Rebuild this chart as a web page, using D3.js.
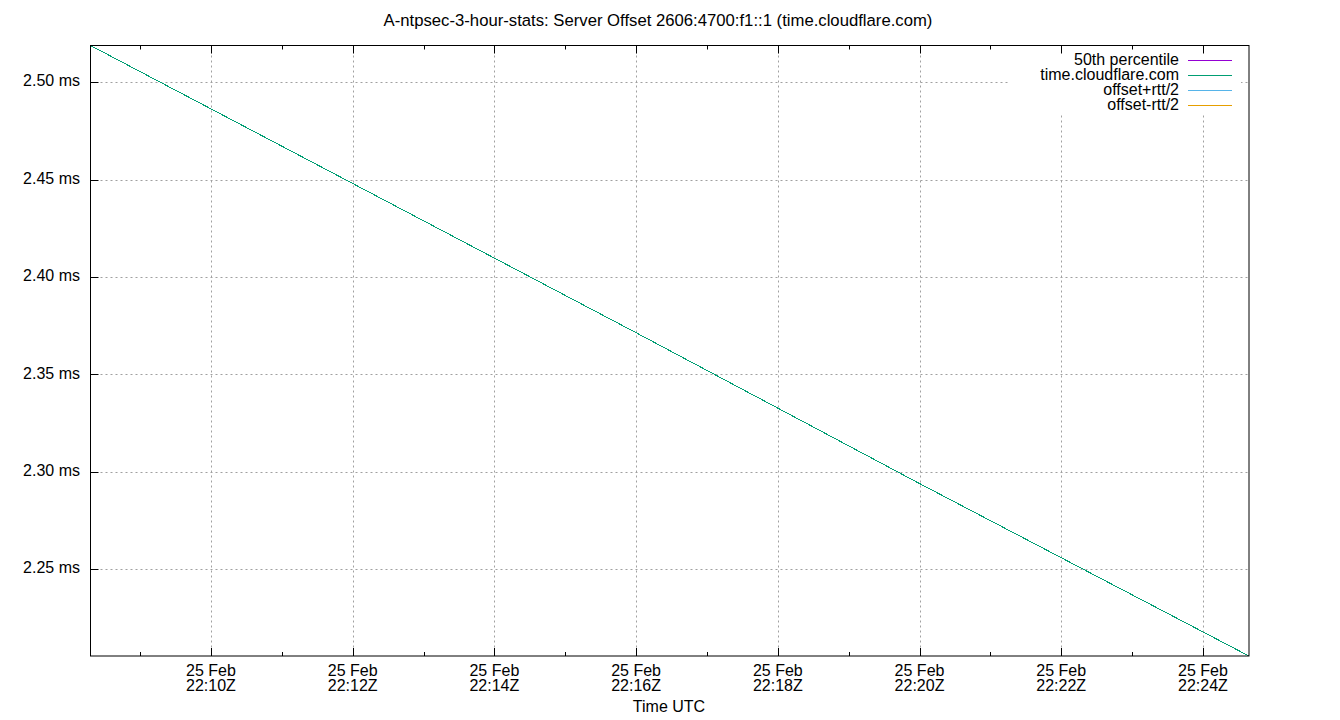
<!DOCTYPE html>
<html><head><meta charset="utf-8">
<script src="https://cdn.jsdelivr.net/npm/d3@7"></script>
<style>body{margin:0;background:#fff}svg{display:block}text{font-family:"Liberation Sans",Arial,sans-serif;fill:#000}</style>
</head><body>
<svg id="c" width="1340" height="720"></svg>
<script>
const title = "A-ntpsec-3-hour-stats: Server Offset 2606:4700:f1::1 (time.cloudflare.com)";
const times = ["2025-02-25T22:08:18Z","2025-02-25T22:12:00Z","2025-02-25T22:16:00Z","2025-02-25T22:20:00Z","2025-02-25T22:24:39Z"];
const offsets = [2.5188, 2.4480, 2.3714, 2.2940, 2.2055];
const yTicks = [2.25, 2.30, 2.35, 2.40, 2.45, 2.50];
const xMajorTicks = ["2025-02-25T22:10:00Z","2025-02-25T22:12:00Z","2025-02-25T22:14:00Z","2025-02-25T22:16:00Z","2025-02-25T22:18:00Z","2025-02-25T22:20:00Z","2025-02-25T22:22:00Z","2025-02-25T22:24:00Z"];
const xMinorTicks = ["2025-02-25T22:09:00Z","2025-02-25T22:11:00Z","2025-02-25T22:13:00Z","2025-02-25T22:15:00Z","2025-02-25T22:17:00Z","2025-02-25T22:19:00Z","2025-02-25T22:21:00Z","2025-02-25T22:23:00Z"];
const legendNames = ["50th percentile","time.cloudflare.com","offset+rtt/2","offset-rtt/2"];
const legendColors = ["#9400d3","#009e73","#56b4e9","#e69f00"];

const L=90.5, R=1249, T=45.5, B=656;
const FS = "16px";
const svg = d3.select("#c");
const pts = times.map((t,i)=>({t:new Date(t), v:offsets[i]}));
const x = d3.scaleUtc().domain(d3.extent(pts,d=>d.t)).range([L,R]);
const y = d3.scaleLinear().domain(d3.extent(pts,d=>d.v)).range([B,T]);
const majors = xMajorTicks.map(d=>new Date(d));
const minors = xMinorTicks.map(d=>new Date(d));

// grid
const g = svg.append("g");
g.selectAll("line.gy").data(yTicks).join("line")
  .attr("x1",L).attr("x2",R).attr("y1",d=>Math.round(y(d))+0.5).attr("y2",d=>Math.round(y(d))+0.5)
  .attr("stroke","#a0a0a0").attr("stroke-width",1).attr("stroke-dasharray","2,3");
g.selectAll("line.gx").data(majors).join("line")
  .attr("y1",T).attr("y2",B).attr("x1",d=>Math.round(x(d))+0.5).attr("x2",d=>Math.round(x(d))+0.5)
  .attr("stroke","#a0a0a0").attr("stroke-width",1).attr("stroke-dasharray","2,3");

// legend background box
svg.append("rect").attr("x",1008).attr("y",T+1).attr("width",233).attr("height",67).attr("fill","#fff");

// line
svg.append("path").datum(pts)
  .attr("d",d3.line().x(d=>x(d.t)).y(d=>y(d.v)))
  .attr("fill","none").attr("stroke","#009e73").attr("stroke-width",1)
  .attr("shape-rendering","crispEdges");

// y ticks left
svg.selectAll("line.yt").data(yTicks).join("line")
  .attr("x1",L).attr("x2",L+8).attr("y1",d=>Math.round(y(d))+0.5).attr("y2",d=>Math.round(y(d))+0.5)
  .attr("stroke","#000");
svg.selectAll("text.yl").data(yTicks).join("text")
  .attr("x",80).attr("y",d=>y(d)-1.5).attr("dy","0.35em").attr("text-anchor","end")
  .style("font-size",FS).text(d=>d3.format(".2f")(d)+" ms");
// x ticks bottom and top (mirror)
[[B,-1],[T,1]].forEach(([yy,dir])=>{
  svg.selectAll(null).data(majors).join("line")
    .attr("x1",d=>Math.round(x(d))+0.5).attr("x2",d=>Math.round(x(d))+0.5)
    .attr("y1",yy).attr("y2",yy+dir*8).attr("stroke","#000");
  svg.selectAll(null).data(minors).join("line")
    .attr("x1",d=>Math.round(x(d))+0.5).attr("x2",d=>Math.round(x(d))+0.5)
    .attr("y1",yy).attr("y2",yy+dir*4).attr("stroke","#000");
});
const fmtD = d3.utcFormat("%-d %b"), fmtT = d3.utcFormat("%H:%MZ");
const xl = svg.selectAll("text.xl").data(majors).join("text")
  .attr("text-anchor","middle").style("font-size",FS);
xl.append("tspan").attr("x",d=>x(d)).attr("y",676).text(d=>fmtD(d));
xl.append("tspan").attr("x",d=>x(d)).attr("y",691).text(d=>fmtT(d));

// border
svg.append("rect").attr("x",L).attr("y",T).attr("width",R-L).attr("height",B-T)
  .attr("fill","none").attr("stroke","#000").attr("stroke-width",1);

// title and axis label
svg.append("text").attr("x",658).attr("y",26).attr("text-anchor","middle").style("font-size","16.7px").text(title);
svg.append("text").attr("x",669).attr("y",712).attr("text-anchor","middle").style("font-size",FS).text("Time UTC");

// legend
const lg = svg.selectAll("g.lg").data(legendNames).join("g")
  .attr("transform",(d,i)=>`translate(0,${60.5+i*15})`);
lg.append("text").attr("x",1179).attr("y",-1.5).attr("dy","0.35em").attr("text-anchor","end")
  .style("font-size",FS).text(d=>d);
lg.append("line").attr("x1",1188).attr("x2",1232).attr("y1",0).attr("y2",0)
  .attr("stroke",(d,i)=>legendColors[i]).attr("stroke-width",1);
</script>
</body></html>
